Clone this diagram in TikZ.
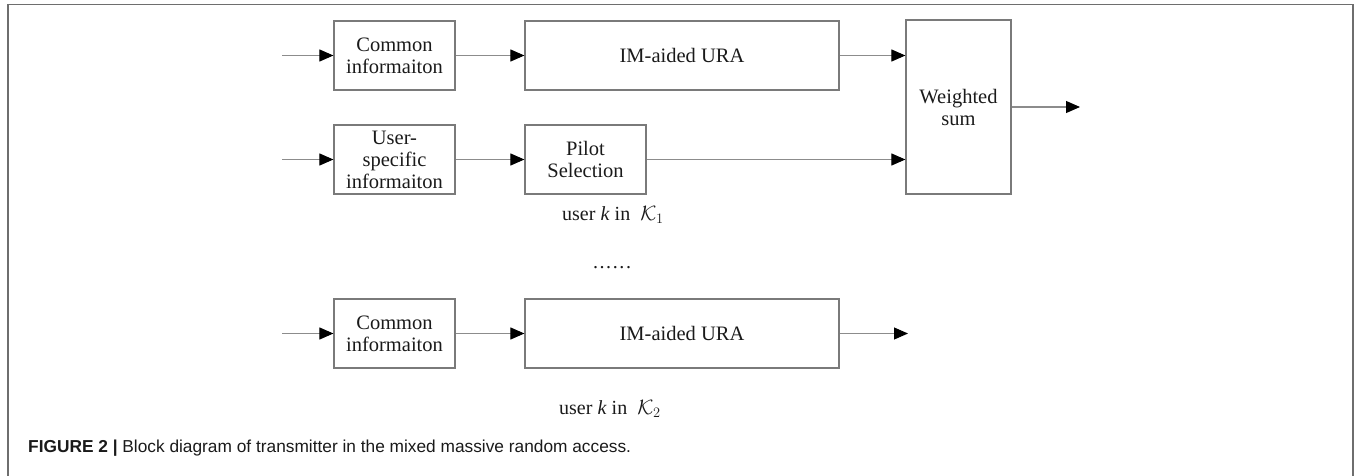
\documentclass[tikz,border=0pt]{standalone}
\usepackage{fontspec}
\setmainfont{Liberation Serif}
\newfontfamily\capfont{Liberation Sans}
\usetikzlibrary{arrows.meta}

\definecolor{boxgray}{HTML}{7A7A7A}
\definecolor{linegray}{HTML}{8C8C8C}
\definecolor{framegray}{HTML}{6E6E6E}
\definecolor{txt}{HTML}{1A1A1A}

\begin{document}
\begin{tikzpicture}[x=1pt,y=-1pt,
  blk/.style={draw=boxgray, line width=1.2pt, inner sep=0pt, align=center,
    text=txt, font=\fontsize{20.5}{22}\selectfont, minimum height=69pt},
  conn/.style={draw=linegray, line width=1.1pt,
    -{Triangle[length=14pt,width=12pt,color=black]}},
  lab/.style={inner sep=0pt, text=txt, font=\fontsize{20}{22}\selectfont}]

\useasboundingbox (0,0) rectangle (1354,476);

% outer frame
\draw[framegray, line width=1.5pt] (8,476) -- (8,4.5) -- (1353,4.5) -- (1353,476);

% group K1
\node[blk, minimum width=121pt] (c1) at (394.5,55.5) {Common\\informaiton};
\node[blk, minimum width=314pt] (u1) at (682,55.5) {IM-aided URA};
\node[blk, minimum width=121pt] (us) at (394.5,159.5) {User-\\specific\\informaiton};
\node[blk, minimum width=121pt] (ps) at (585.5,159.5) {Pilot\\Selection};
\node[blk, minimum width=105pt, minimum height=174pt] (ws) at (958.5,107) {Weighted\\sum};

\coordinate (in1) at (282,55.5);
\coordinate (in2) at (282,159.5);
\coordinate (out1) at (1080,107);

\draw[conn] (in1) -- (c1.west);
\draw[conn] (c1.east) -- (u1.west);
\draw[conn] (u1.east) -- (u1.east -| ws.west);
\draw[conn] (in2) -- (us.west);
\draw[conn] (us.east) -- (ps.west);
\draw[conn] (ps.east) -- (ps.east -| ws.west);
\draw[conn] (ws.east) -- (out1);

\node[lab, anchor=base west] (l1) at (562,220) {user \textit{k} in\ \ $\mathcal{K}_1$};

\node[lab, anchor=base] (dots) at (612,268)
  {.\kern1.6pt.\kern1.6pt.\kern1.6pt.\kern1.6pt.\kern1.6pt.};

% group K2
\node[blk, minimum width=121pt] (c2) at (394.5,333.5) {Common\\informaiton};
\node[blk, minimum width=314pt] (u2) at (682,333.5) {IM-aided URA};
\coordinate (in3) at (282,333.5);
\coordinate (out2) at (908,333.5);

\draw[conn] (in3) -- (c2.west);
\draw[conn] (c2.east) -- (u2.west);
\draw[conn] (u2.east) -- (out2);

\node[lab, anchor=base west] (l2) at (559,414) {user \textit{k} in\ \ $\mathcal{K}_2$};

% caption
\node[inner sep=0pt, anchor=base west, text=txt, font=\capfont\fontsize{17.3}{20}\selectfont] (cap) at (28,452)
  {\textbf{FIGURE 2 |} Block diagram of transmitter in the mixed massive random access.};
\end{tikzpicture}
\end{document}
